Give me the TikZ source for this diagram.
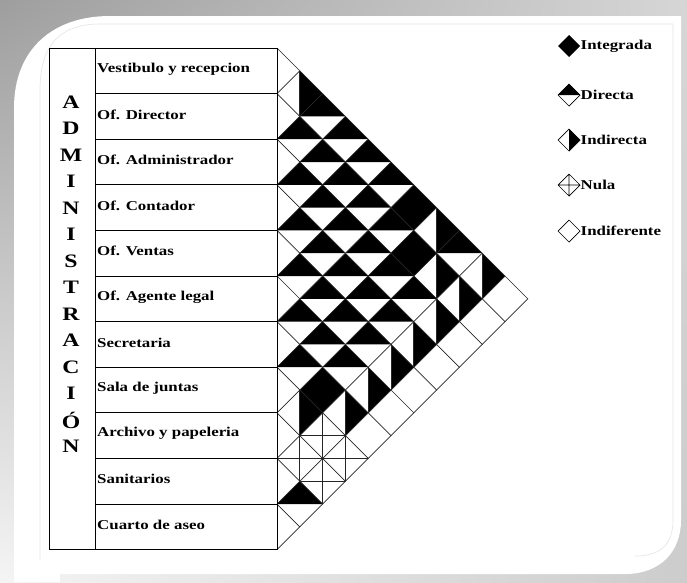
\documentclass[tikz,border=0pt]{standalone}
\usepackage{fontspec}
\usetikzlibrary{shadings}
\setmainfont{Liberation Serif}[FakeStretch=1.25]
\begin{document}
\begin{tikzpicture}[x=1pt,y=-1pt,
  grid/.style={line width=0.7pt,draw=black!85},
  tab/.style={line width=0.8pt,draw=black},
  lab/.style={anchor=west,inner sep=0pt,font=\fontsize{13.5}{15}\selectfont\bfseries},
  vlet/.style={inner sep=0pt,font=\fontsize{19}{20}\selectfont\bfseries},
  leg/.style={anchor=west,inner sep=0pt,font=\fontsize{13.5}{15}\selectfont\bfseries}]
\useasboundingbox (0,0) rectangle (687,582);
% background frame
\shade[upper left=black!38,upper right=black!16,lower left=black!4,lower right=black!20] (0,0) rectangle (687,582);
\fill[white] (14,582) -- (14,108) .. controls (14,50) and (52,16) .. (110,16) -- (681,16)
  -- (681,520) .. controls (681,552) and (660,574) .. (625,574) -- (60,574) -- (60,582) -- cycle;
\draw[black!10,line width=0.6pt] (40,560) -- (40,90) .. controls (40,45) and (60,24) .. (100,24) -- (673,24) -- (673,520)
  .. controls (673,545) and (660,556) .. (635,556);
% ---- fills
\def\hh{22.8}
% Directa (top half)
\foreach \k/\i in {2/1,3/1,4/1,5/1,8/1,
  1/2,2/2,3/2,4/2,5/2,
  1/3,2/3,3/3,4/3,5/3,6/3,
  1/4,2/4,3/4,4/4,5/4,
  1/5,2/5,3/5,4/5,
  1/6,2/6,3/6,
  1/7,1/10}{
  \pgfmathsetmacro\cx{277+22.8*\k}\pgfmathsetmacro\cy{48+22.8*(2*\i+\k-1)}
  \fill (\cx-\hh,\cy) -- (\cx,\cy-\hh) -- (\cx+\hh,\cy) -- cycle;}
% Integrada (full)
\foreach \k/\i in {6/1,6/2,2/7}{
  \pgfmathsetmacro\cx{277+22.8*\k}\pgfmathsetmacro\cy{48+22.8*(2*\i+\k-1)}
  \fill (\cx-\hh,\cy) -- (\cx,\cy-\hh) -- (\cx+\hh,\cy) -- (\cx,\cy+\hh) -- cycle;}
% Indirecta (right half)
\foreach \k/\i in {1/1,7/1,9/1,7/2,8/2,7/3,6/4,5/5,4/6,3/7,1/8}{
  \pgfmathsetmacro\cx{277+22.8*\k}\pgfmathsetmacro\cy{48+22.8*(2*\i+\k-1)}
  \fill (\cx,\cy-\hh) -- (\cx+\hh,\cy) -- (\cx,\cy+\hh) -- cycle;
  \draw[grid] (\cx,\cy-\hh) -- (\cx,\cy+\hh);}
% Nula (cross)
\foreach \k/\i in {2/8,3/8,1/9,2/9}{
  \pgfmathsetmacro\cx{277+22.8*\k}\pgfmathsetmacro\cy{48+22.8*(2*\i+\k-1)}
  \draw[grid] (\cx,\cy-\hh) -- (\cx,\cy+\hh) (\cx-\hh,\cy) -- (\cx+\hh,\cy);}
% ---- grid lines
\foreach \n in {0,...,10}{
  \pgfmathsetmacro\b{48+45.6*\n}\pgfmathsetmacro\d{(550-\b)/2}
  \draw[grid] (277,\b) -- ++(\d,\d);}
\foreach \n in {1,...,11}{
  \pgfmathsetmacro\b{48+45.6*\n}\pgfmathsetmacro\d{(\b-48)/2}
  \draw[grid] (277,\b) -- ++(\d,-\d);}
% ---- table
\draw[tab] (49,48) rectangle (277,549.6);
\draw[tab] (95,48) -- (95,549.6);
\foreach \n in {1,...,10}{\pgfmathsetmacro\b{48+45.6*\n}\draw[tab] (95,\b) -- (277,\b);}
\foreach \t [count=\n] in {Vestibulo y recepcion,Of. Director,Of. Administrador,Of. Contador,Of. Ventas,Of. Agente legal,Secretaria,Sala de juntas,Archivo y papeleria,Sanitarios,Cuarto de aseo}{
  \pgfmathsetmacro\cy{48+45.6*(\n-0.5)-2}
  \node[lab] (r\n) at (97,\cy) {\t};}
\foreach \l [count=\n] in {A,D,M,I,N,I,S,T,R,A,C,I,Ó,N}{
  \pgfmathsetmacro\cy{102+26.5*(\n-1)}
  \node[vlet] (v\n) at (71,\cy) {\l};}
% ---- legend
\def\lx{569}\def\lh{11}
\fill (\lx-\lh,46) -- (\lx,46-\lh) -- (\lx+\lh,46) -- (\lx,46+\lh) -- cycle;
\node[leg] (l1) at (\lx+\lh+0.5,46) {Integrada};
\fill (\lx-\lh,95) -- (\lx,95-\lh) -- (\lx+\lh,95) -- cycle;
\draw[line width=0.7pt] (\lx-\lh,95) -- (\lx,95-\lh) -- (\lx+\lh,95) -- (\lx,95+\lh) -- cycle;
\node[leg] (l2) at (\lx+\lh+0.5,95) {Directa};
\fill (\lx,140-\lh) -- (\lx+\lh,140) -- (\lx,140+\lh) -- cycle;
\draw[line width=0.7pt] (\lx-\lh,140) -- (\lx,140-\lh) -- (\lx+\lh,140) -- (\lx,140+\lh) -- cycle;
\node[leg] (l3) at (\lx+\lh+0.5,140) {Indirecta};
\draw[line width=0.7pt] (\lx-\lh,185) -- (\lx,185-\lh) -- (\lx+\lh,185) -- (\lx,185+\lh) -- cycle
  (\lx-\lh,185) -- (\lx+\lh,185) (\lx,185-\lh) -- (\lx,185+\lh);
\node[leg] (l4) at (\lx+\lh+0.5,185) {Nula};
\draw[line width=0.7pt] (\lx-\lh,231) -- (\lx,231-\lh) -- (\lx+\lh,231) -- (\lx,231+\lh) -- cycle;
\node[leg] (l5) at (\lx+\lh+0.5,231) {Indiferente};
\end{tikzpicture}
\end{document}
